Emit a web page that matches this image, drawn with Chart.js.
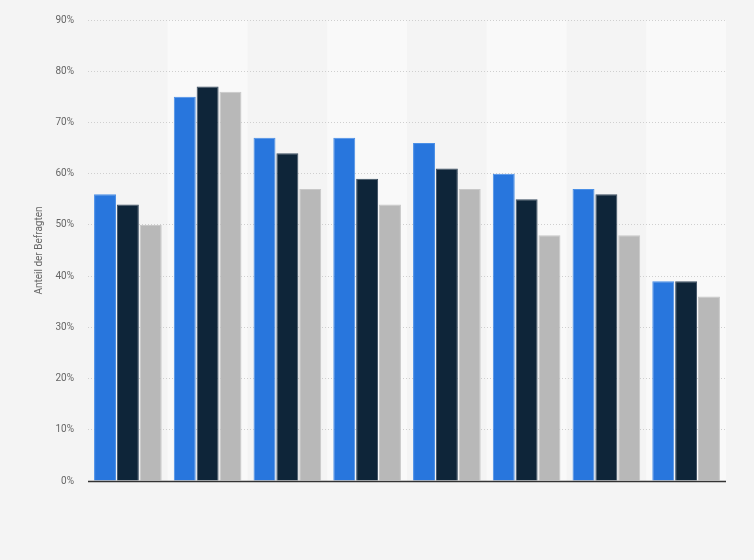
<!DOCTYPE html>
<html>
<head>
<meta charset="utf-8">
<script src="https://cdn.jsdelivr.net/npm/chart.js@4/dist/chart.umd.min.js"></script>
<style>
  html, body { margin: 0; padding: 0; background: #f4f4f4; }
  #wrap { width: 754px; height: 560px; position: relative; }
</style>
</head>
<body>
<div id="wrap"><canvas id="barChart"></canvas></div>
<script>
const categories = ['1', '2', '3', '4', '5', '6', '7', '8'];
const seriesA = [56, 75, 67, 67, 66, 60, 57, 39];
const seriesB = [54, 77, 64, 59, 61, 55, 56, 39];
const seriesC = [50, 76, 57, 54, 57, 48, 48, 36];
const yTicks = [0, 10, 20, 30, 40, 50, 60, 70, 80, 90];

// light bands behind every second category
const bands = {
  id: 'bands',
  beforeDraw(chart) {
    const { ctx, chartArea: a, scales: { x } } = chart;
    const w = (a.right - a.left) / categories.length;
    ctx.save();
    ctx.fillStyle = '#f9f9f9';
    categories.forEach((c, i) => {
      if (i % 2 === 1) {
        const cx = x.getPixelForValue(i);
        ctx.fillRect(cx - w / 2, a.top, w, a.bottom - a.top);
      }
    });
    ctx.restore();
  },
  afterDatasetsDraw(chart) {
    const { ctx, chartArea: a, scales: { y } } = chart;
    const py = Math.round(y.getPixelForValue(0)) + 0.5;
    ctx.save();
    ctx.strokeStyle = '#333';
    ctx.lineWidth = 1.5;
    ctx.beginPath();
    ctx.moveTo(a.left, py);
    ctx.lineTo(a.right, py);
    ctx.stroke();
    ctx.restore();
  }
};

const ds = (data, color, border) => ({
  data, backgroundColor: color, borderColor: border, borderWidth: 1,
  barPercentage: 0.96, categoryPercentage: 0.86
});

new Chart(document.getElementById('barChart'), {
  type: 'bar',
  data: {
    labels: categories,
    datasets: [
      ds(seriesA, '#2876dd', '#4a8fe6'),
      ds(seriesB, '#0e2539', '#3a4d60'),
      ds(seriesC, '#b8b8b8', '#c8c8c8')
    ]
  },
  options: {
    responsive: true,
    maintainAspectRatio: false,
    animation: false,
    layout: { padding: { top: 20, right: 28, bottom: 79, left: 0 } },
    plugins: { legend: { display: false }, tooltip: { enabled: false } },
    scales: {
      x: { display: false },
      y: {
        min: 0, max: 90,
        afterBuildTicks(s) { s.ticks = yTicks.map(v => ({ value: v })); },
        afterFit(s) { s.width = 88; },
        ticks: {
          color: '#666', padding: 14,
          font: { family: 'Roboto', size: 10 },
          callback: v => v + '%'
        },
        grid: {
          color: c => c.tick && c.tick.value === 0 ? 'transparent' : '#cfcfcf',
          drawTicks: false, lineWidth: 1
        },
        border: { display: false, dash: [1, 2] },
        title: {
          display: true, text: 'Anteil der Befragten', color: '#666',
          font: { family: 'Roboto', size: 10 }, padding: { top: 33, bottom: 0 }
        }
      }
    }
  },
  plugins: [bands]
});
</script>
</body>
</html>
